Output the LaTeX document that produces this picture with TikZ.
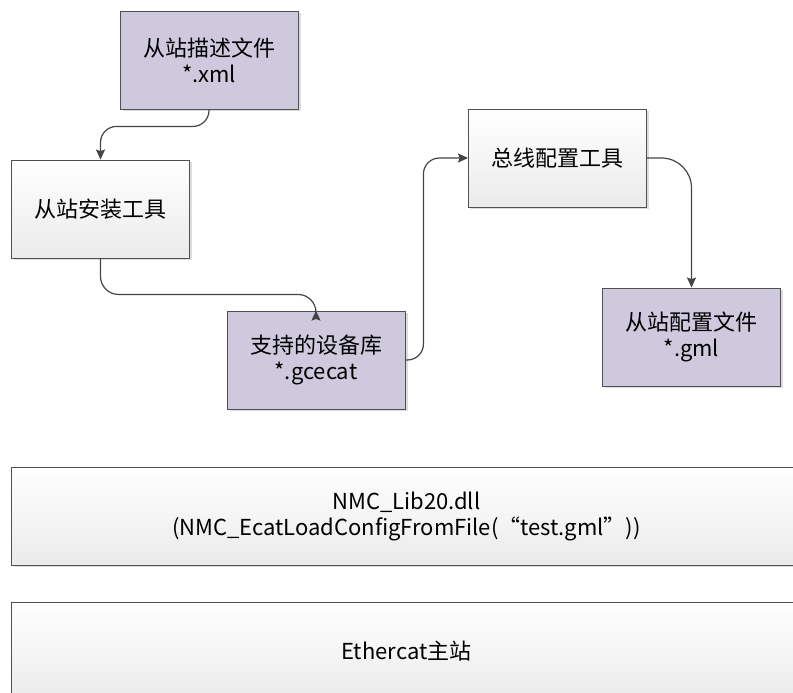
\documentclass[tikz,border=0pt]{standalone}
\usepackage{fontspec}
\setmainfont{Noto Sans CJK SC}
\usetikzlibrary{arrows.meta,positioning,shadows}

\definecolor{filepurple}{HTML}{CFC9DD}
\definecolor{boxline}{HTML}{505050}
\definecolor{arrowgray}{HTML}{444444}

\begin{document}
\begin{tikzpicture}[
    x=1pt, y=1pt,
    font=\fontsize{22}{26}\selectfont,
    basebox/.style={
        draw=boxline,
        line width=0.9pt,
        minimum width=178pt,
        minimum height=98pt,
        inner sep=0pt,
        align=center,
        drop shadow={shadow xshift=2.5pt, shadow yshift=-2.5pt, fill=gray!45, opacity=0.6}
    },
    filebox/.style={basebox, fill=filepurple},
    toolbox/.style={basebox, top color=white, bottom color=gray!16},
    layerbox/.style={toolbox, minimum width=790pt, anchor=west},
    arrow/.style={-{Stealth[length=10pt,width=9pt,inset=1.5pt]}, line width=1.2pt, draw=arrowgray}
]
\useasboundingbox (0,0) rectangle (793,693);

\node[filebox] (descfile) at (209,633) {从站描述文件\\*.xml};
\node[toolbox] (installtool) at (100.5,484) {从站安装工具};
\node[filebox] (devlib) at (316,333) {支持的设备库\\*.gcecat};
\node[toolbox] (bustool) at (557.5,535) {总线配置工具};
\node[filebox] (cfgfile) at (691.5,356) {从站配置文件\\*.gml};

\node[layerbox] (nmclib) at (11,177) {NMC\_Lib20.dll\\(NMC\_EcatLoadConfigFromFile(“test.gml”))};
\node[layerbox] (master) at (11,42) {Ethercat主站};

\draw[arrow, rounded corners=16pt] (descfile.south) -- ++(0,-17) -| (installtool.north);
\draw[arrow, rounded corners=18pt] (installtool.south) -- ++(0,-36) -| (devlib.north);
\draw[arrow, rounded corners=16pt] (devlib.east) -- ++(18,0) |- (bustool.west);
\draw[arrow, rounded corners=30pt] (bustool.east) -| (cfgfile.north);

\end{tikzpicture}
\end{document}
